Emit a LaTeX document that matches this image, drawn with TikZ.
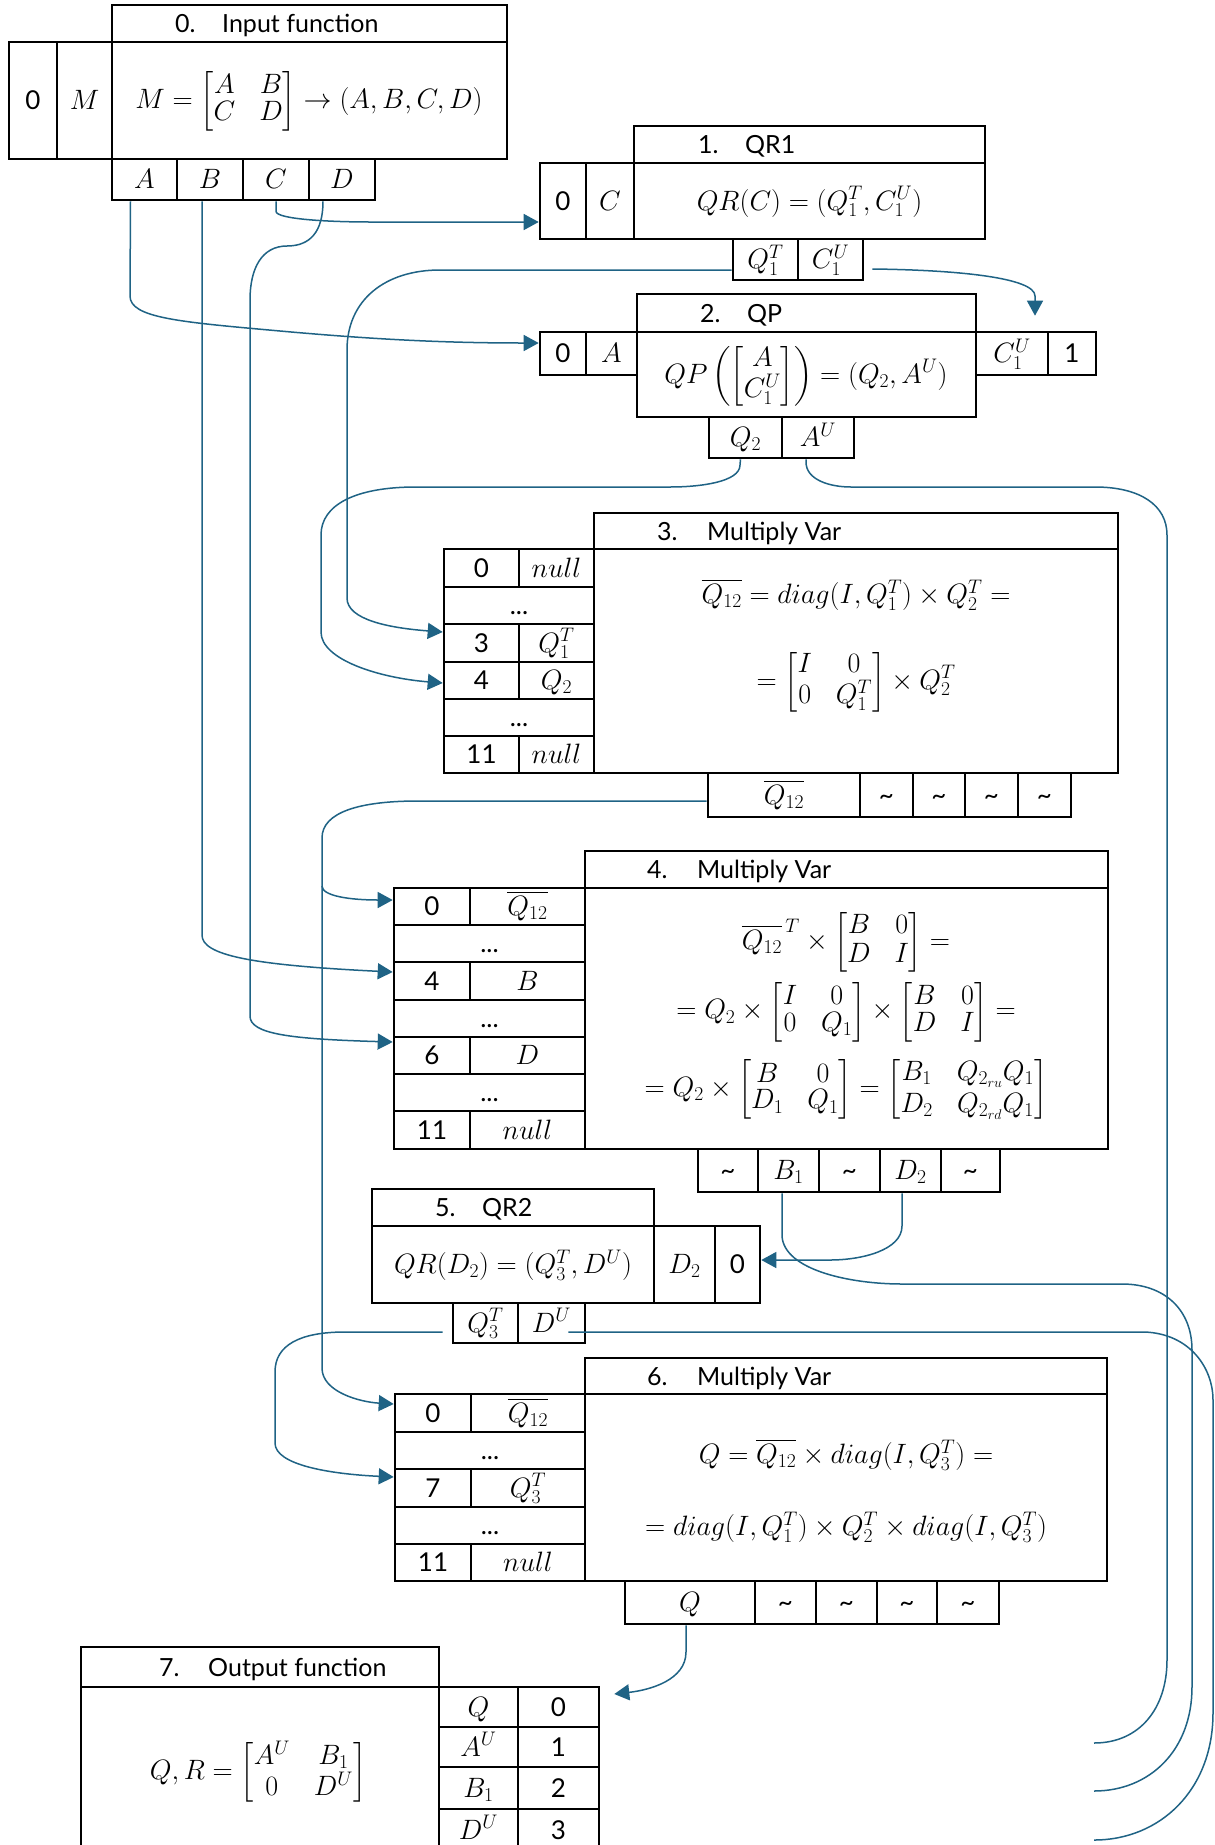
\RequirePackage{fix-cm}
\documentclass[tikz,border=0pt]{standalone}
\usepackage{amsmath}
\usepackage[no-math]{fontspec}
\setmainfont{Lato}
\usetikzlibrary{calc,arrows.meta}
\definecolor{lnk}{RGB}{31,99,133}
\setlength{\arraycolsep}{12pt}
\renewcommand{\arraystretch}{0.8}
\newcommand\mm[1]{\fontsize{28}{32}\selectfont$#1$}
\newcommand\cellbox[6]{%
  \pgfmathsetmacro\mycellw{#4-#2}\pgfmathsetmacro\mycellh{#5-#3}%
  \node[box, minimum width=\mycellw pt, minimum height=\mycellh pt] (#1) at ({(#2+#4)/2},{(#3+#5)/2}) {#6};}
\tikzset{
  box/.style={draw, line width=2.6pt, inner sep=0pt, font=\fontsize{26}{32}\selectfont, text height=18pt, text depth=0pt},
  ttl/.style={font=\fontsize{25}{30}\selectfont, anchor=west, inner sep=0pt, text height=18pt, text depth=0pt},
  fml/.style={font=\fontsize{28}{32}\selectfont, inner sep=0pt},
  conn/.style={draw=lnk, line width=1.5pt},
  arr/.style={conn, -{Triangle[length=15pt,width=16pt]}},
}
\begin{document}
\begin{tikzpicture}[x=1pt,y=-1pt]
\clip (0,0) rectangle (1215,1845);
\fill[white] (0,0) rectangle (1215,1845);
% ---------- 0. Input function
\cellbox{t0}{112}{5}{507}{42}{}
\node[ttl] (t0l) at (175,23.5) {\makebox[47pt][l]{0.}Input function};
\cellbox{i0z}{9}{42}{57}{159}{0}
\cellbox{i0m}{57}{42}{112}{159}{\mm{M}}
\cellbox{f0}{112}{42}{507}{159}{}
\node[fml] (f0t) at (309,101) {$M=\begin{bmatrix}A&B\\C&D\end{bmatrix}\rightarrow(A,B,C,D)$};
\cellbox{oA}{112}{159}{177}{200}{\mm{A}}
\cellbox{oB}{177}{159}{243}{200}{\mm{B}}
\cellbox{oC}{243}{159}{309}{200}{\mm{C}}
\cellbox{oD}{309}{159}{375}{200}{\mm{D}}
% ---------- 1. QR1
\cellbox{t1}{634}{126}{985}{163}{}
\node[ttl] (t1l) at (698,144.5) {\makebox[47pt][l]{1.}QR1};
\cellbox{q1z}{540}{163}{586}{239}{0}
\cellbox{q1c}{586}{163}{634}{239}{\mm{C}}
\cellbox{f1}{634}{163}{985}{239}{\mm{QR(C)=(Q_1^T,C_1^U)}}
\cellbox{oQ1}{733}{239}{798}{280}{\mm{Q_1^T}}
\cellbox{oC1}{798}{239}{863}{280}{\mm{C_1^U}}
% ---------- 2. QP
\cellbox{t2}{637}{294}{976}{332}{}
\node[ttl] (t2l) at (700,313) {\makebox[47pt][l]{2.}QP};
\cellbox{q2z}{540}{332}{586}{375}{0}
\cellbox{q2a}{586}{332}{637}{375}{\mm{A}}
\cellbox{f2}{637}{332}{976}{417}{}
\node[fml] (f2t) at (806,376) {$QP\left(\begin{bmatrix}A\\C_1^U\end{bmatrix}\right)=(Q_2,A^U)$};
\cellbox{q2c}{976}{332}{1048}{375}{\mm{C_1^U}}
\cellbox{q2o}{1048}{332}{1096}{375}{1}
\cellbox{oQ2}{709}{417}{782}{458}{\mm{Q_2}}
\cellbox{oAU}{782}{417}{854}{458}{\mm{A^U}}
% ---------- 3. Multiply Var
\cellbox{t3}{594}{513}{1118}{549}{}
\node[ttl] (t3l) at (657,531) {\makebox[50pt][l]{3.}Multiply Var};
\cellbox{s3i0}{444}{549}{519}{587}{0}
\cellbox{s3v0}{519}{549}{594}{587}{\mm{null}}
\cellbox{s3d1}{444}{587}{594}{624}{...}
\cellbox{s3i3}{444}{624}{519}{662}{3}
\cellbox{s3v3}{519}{624}{594}{662}{\mm{Q_1^T}}
\cellbox{s3i4}{444}{662}{519}{699}{4}
\cellbox{s3v4}{519}{662}{594}{699}{\mm{Q_2}}
\cellbox{s3d2}{444}{699}{594}{736}{...}
\cellbox{s3i11}{444}{736}{519}{773}{11}
\cellbox{s3v11}{519}{736}{594}{773}{\mm{null}}
\cellbox{f3}{594}{549}{1118}{773}{}
\node[fml] (f3a) at (856,595) {$\overline{Q_{12}}=diag(I,Q_1^T)\times Q_2^T=$};
\node[fml] (f3b) at (856,682) {$=\begin{bmatrix}I&0\\0&Q_1^T\end{bmatrix}\times Q_2^T$};
\cellbox{o3q}{708}{773}{860}{817}{\mm{\overline{Q_{12}}}}
\cellbox{o3t1}{860}{773}{913}{817}{\textasciitilde}
\cellbox{o3t2}{913}{773}{965}{817}{\textasciitilde}
\cellbox{o3t3}{965}{773}{1018}{817}{\textasciitilde}
\cellbox{o3t4}{1018}{773}{1071}{817}{\textasciitilde}
% ---------- 4. Multiply Var
\cellbox{t4}{585}{851}{1108}{888}{}
\node[ttl] (t4l) at (647,869.5) {\makebox[50pt][l]{4.}Multiply Var};
\cellbox{s4i0}{394}{888}{470}{925}{0}
\cellbox{s4v0}{470}{888}{585}{925}{\mm{\overline{Q_{12}}}}
\cellbox{s4d1}{394}{925}{585}{962}{...}
\cellbox{s4i4}{394}{962}{470}{1000}{4}
\cellbox{s4v4}{470}{962}{585}{1000}{\mm{B}}
\cellbox{s4d2}{394}{1000}{585}{1037}{...}
\cellbox{s4i6}{394}{1037}{470}{1074}{6}
\cellbox{s4v6}{470}{1037}{585}{1074}{\mm{D}}
\cellbox{s4d3}{394}{1074}{585}{1111}{...}
\cellbox{s4i11}{394}{1111}{470}{1149}{11}
\cellbox{s4v11}{470}{1111}{585}{1149}{\mm{null}}
\cellbox{f4}{585}{888}{1108}{1149}{}
\node[fml] (f4t) at (846,1017) {$\begin{gathered}
\overline{Q_{12}}^{\,T}\times{\renewcommand{\arraystretch}{0.9}\begin{bmatrix}B&0\\D&I\end{bmatrix}}=\\[6pt]
=Q_2\times\begin{bmatrix}I&0\\0&Q_1\end{bmatrix}\times\begin{bmatrix}B&0\\D&I\end{bmatrix}=\\[12pt]
=Q_2\times\begin{bmatrix}B&0\\D_1&Q_1\end{bmatrix}=\renewcommand{\arraystretch}{1.0}\begin{bmatrix}B_1&Q_{2_{ru}}Q_1\\D_2&Q_{2_{rd}}Q_1\end{bmatrix}
\end{gathered}$};
\cellbox{o4t1}{698}{1149}{758}{1192}{\textasciitilde}
\cellbox{o4b}{758}{1149}{819}{1192}{\mm{B_1}}
\cellbox{o4t2}{819}{1149}{880}{1192}{\textasciitilde}
\cellbox{o4d}{880}{1149}{941}{1192}{\mm{D_2}}
\cellbox{o4t3}{941}{1149}{1000}{1192}{\textasciitilde}
% ---------- 5. QR2
\cellbox{t5}{372}{1189}{654}{1226}{}
\node[ttl] (t5l) at (435,1207.5) {\makebox[47pt][l]{5.}QR2};
\cellbox{f5}{372}{1226}{654}{1303}{\mm{QR(D_2)=(Q_3^T,D^U)}}
\cellbox{q5d}{654}{1226}{715}{1303}{\mm{D_2}}
\cellbox{q5z}{715}{1226}{760}{1303}{0}
\cellbox{oQ3}{453}{1303}{518}{1343}{\mm{Q_3^T}}
\cellbox{oDU}{518}{1303}{585}{1343}{\mm{D^U}}
% ---------- 6. Multiply Var
\cellbox{t6}{585}{1358}{1107}{1394}{}
\node[ttl] (t6l) at (647,1376) {\makebox[50pt][l]{6.}Multiply Var};
\cellbox{s6i0}{395}{1394}{471}{1432}{0}
\cellbox{s6v0}{471}{1394}{585}{1432}{\mm{\overline{Q_{12}}}}
\cellbox{s6d1}{395}{1432}{585}{1469}{...}
\cellbox{s6i7}{395}{1469}{471}{1507}{7}
\cellbox{s6v7}{471}{1469}{585}{1507}{\mm{Q_3^T}}
\cellbox{s6d2}{395}{1507}{585}{1544}{...}
\cellbox{s6i11}{395}{1544}{471}{1581}{11}
\cellbox{s6v11}{471}{1544}{585}{1581}{\mm{null}}
\cellbox{f6}{585}{1394}{1107}{1581}{}
\node[fml] (f6a) at (846,1455) {$Q=\overline{Q_{12}}\times diag(I,Q_3^T)=$};
\node[fml] (f6b) at (846,1527) {$=diag(I,Q_1^T)\times Q_2^T\times diag(I,Q_3^T)$};
\cellbox{o6q}{625}{1581}{755}{1624}{\mm{Q}}
\cellbox{o6t1}{755}{1581}{816}{1624}{\textasciitilde}
\cellbox{o6t2}{816}{1581}{877}{1624}{\textasciitilde}
\cellbox{o6t3}{877}{1581}{937}{1624}{\textasciitilde}
\cellbox{o6t4}{937}{1581}{999}{1624}{\textasciitilde}
% ---------- 7. Output function
\cellbox{t7}{81}{1647}{439}{1687}{}
\node[ttl] (t7l) at (159,1667) {\makebox[49pt][l]{7.}Output function};
\cellbox{f7}{81}{1687}{439}{1875}{}
\node[fml] (f7t) at (258,1772) {$Q,R=\begin{bmatrix}A^U&B_1\\0&D^U\end{bmatrix}$};
\cellbox{r0n}{439}{1687}{518}{1727}{\mm{Q}}
\cellbox{r0v}{518}{1687}{599}{1727}{0}
\cellbox{r1n}{439}{1727}{518}{1767}{\mm{A^U}}
\cellbox{r1v}{518}{1727}{599}{1767}{1}
\cellbox{r2n}{439}{1767}{518}{1809}{\mm{B_1}}
\cellbox{r2v}{518}{1767}{599}{1809}{2}
\cellbox{r3n}{439}{1809}{518}{1851}{\mm{D^U}}
\cellbox{r3v}{518}{1809}{599}{1851}{3}
% ---------- free ends
\coordinate (eAU) at (1094,1743);
\coordinate (eB1) at (1094,1791);
\coordinate (eDU) at (1094,1840);
\coordinate (q12split) at (322,886);
% ---------- connectors
\draw[arr] (oC.south) -- ++(0,10) .. controls +(0,8) and (330,222) .. (371,222) -- ($(q1z.west)+(0,21)$);
\draw[arr] ($(oD.south)+(-19,0)$) .. controls (323,232) and (310,246) .. (287,246) .. controls (262,246) and (250,268) .. (250,300) -- (250,1016) .. controls (250,1034) and (290,1039) .. ($(s4i6.west)+(0,-13.5)$);
\draw[arr] ($(oA.south)+(-14,0)$) -- (130,296) .. controls (130,318) and (180,322) .. (280,331) .. controls (380,340) and (450,343) .. ($(q2z.west)+(0,-10.5)$);
\draw[arr] ($(oB.south)+(-8,0)$) -- (202,935) .. controls (202,955) and (250,965) .. ($(s4i4.west)+(0,-9)$);
\draw[arr] ($(oQ1.west)+(0,10.5)$) -- (440,270) .. controls (385,270) and (347,300) .. (347,350) -- (347,598) .. controls (347,620) and (390,628) .. ($(s3i3.west)+(0,-11)$);
\draw[arr] ($(oC1.east)+(8,9.5)$) .. controls (960,270) and (1035,278) .. (1035,296) -- ($(q2c.north)+(23,-15)$);
\draw[arr] ($(oQ2.south)+(-5,0)$) -- (740,465) .. controls (740,482) and (700,487) .. (670,487) -- (416,487) .. controls (355,487) and (321,505) .. (321,535) -- (321,632) .. controls (321,660) and (380,678) .. ($(s3i4.west)+(0,2.5)$);
\draw[conn] ($(oAU.south)+(-12,0)$) -- (806,462) .. controls (806,480) and (830,487) .. (851,487) -- (1095,487) .. controls (1140,487) and (1167,505) .. (1167,535) -- (1167,1660) .. controls (1167,1708) and (1140,1743) .. (eAU);
\draw[arr] ($(o3q.west)+(0,6)$) -- (418,801) .. controls (360,801) and (322,812) .. (322,838) -- (q12split) .. controls (322,896) and (350,900) .. ($(s4i0.west)+(0,-6.5)$);
\draw[arr] (q12split) -- (322,1368) .. controls (322,1392) and (360,1402) .. ($(s6i0.west)+(0,-9)$);
\draw[conn] ($(o4b.south)+(-6.5,0)$) -- (782,1236) .. controls (784,1270) and (850,1284) .. (902,1284) -- (1122,1284) .. controls (1165,1284) and (1192,1310) .. (1192,1350) -- (1192,1687) .. controls (1192,1750) and (1150,1791) .. (eB1);
\draw[arr] ($(o4d.south)+(-8.5,0)$) -- (902,1226) .. controls (902,1250) and (862,1260) .. (830,1260) -- ($(q5z.east)+(0,-4.5)$);
\draw[arr] ($(oQ3.west)+(-9,9)$) -- (345,1332) .. controls (300,1332) and (275,1345) .. (275,1372) -- (275,1443) .. controls (275,1465) and (330,1474) .. ($(s6i7.west)+(0,-11)$);
\draw[conn] ($(oDU.east)+(-18,9)$) -- (1145,1332) .. controls (1190,1334) and (1213,1368) .. (1213,1400) -- (1213,1713) .. controls (1213,1790) and (1160,1840) .. (eDU);
\draw[arr] ($(o6q.south)+(-4,0)$) -- (686,1652) .. controls (686,1680) and (650,1690) .. ($(r0v.east)+(14,-13)$);
\end{tikzpicture}
\end{document}
